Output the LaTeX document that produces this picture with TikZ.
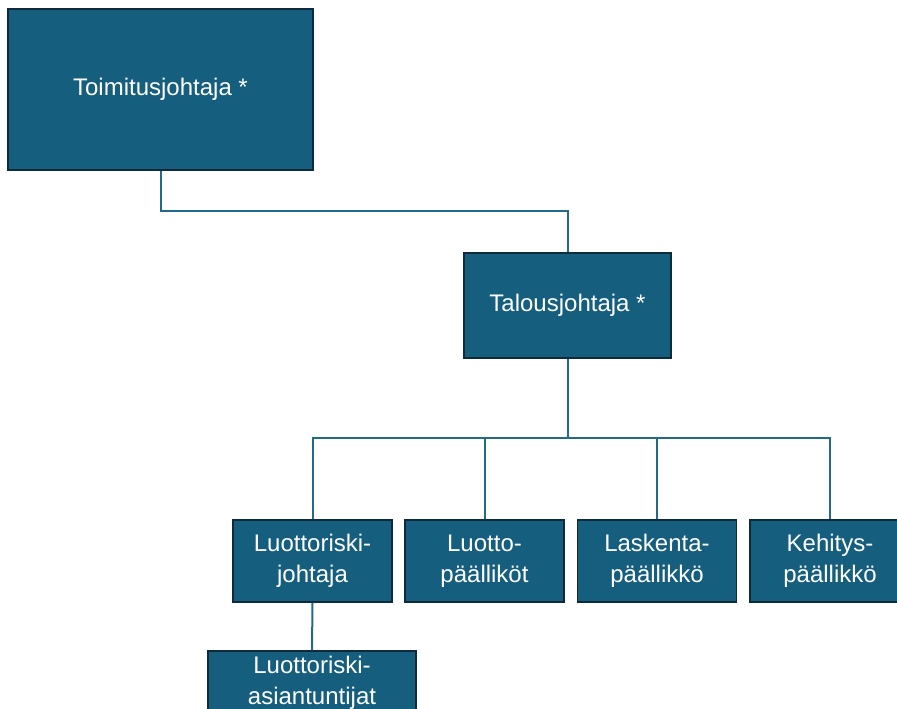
\documentclass[tikz,border=0pt]{standalone}
\usepackage{fontspec}
\setmainfont{Liberation Sans}
\definecolor{boxfill}{HTML}{165E7D}
\definecolor{boxedge}{HTML}{0D2B3B}
\definecolor{linkcol}{HTML}{22698A}
\begin{document}
\begin{tikzpicture}[x=1pt, y=-1pt,
  every node/.style={font=\fontsize{24}{31}\selectfont, text=white, align=center},
  orgbox/.style={rectangle, draw=boxedge, fill=boxfill, line width=1.5pt, inner sep=0pt},
  link/.style={draw=linkcol, line width=2pt}]
\useasboundingbox (0,0) rectangle (897,709);
\clip (0,0) rectangle (897,709);
% top levels
\node[orgbox, minimum width=305pt, minimum height=161pt] (ceo) at (160.5,89.5) {Toimitusjohtaja *};
\node[orgbox, minimum width=207pt, minimum height=105pt] (cfo) at (567.5,305.5) {Talousjohtaja *};
% team under the CFO
\node[orgbox, minimum width=159pt, minimum height=82pt] (riskhead) at (312.5,561) {Luottoriski-\\johtaja};
\node[orgbox, minimum width=159pt, minimum height=82pt] (credit) at (484.5,561) {Luotto-\\päälliköt};
\node[orgbox, minimum width=159pt, minimum height=82pt] (account) at (657,561) {Laskenta-\\päällikkö};
\node[orgbox, minimum width=160pt, minimum height=82pt] (devel) at (830,561) {Kehitys-\\päällikkö};
\node[orgbox, minimum width=208pt, minimum height=64pt] (riskexp) at (312,683) {Luottoriski-\\asiantuntijat};
% connectors
\coordinate (busA) at (364,211);
\coordinate (busB) at (567.5,438);
\draw[link] (ceo.south) |- (busA) -| (cfo.north);
\draw[link] (cfo.south) -- (busB);
\foreach \sub in {riskhead, credit, account, devel}
  \draw[link] (busB) -| (\sub.north);
\draw[link] (riskhead.south) -- (riskexp.north);
\end{tikzpicture}
\end{document}
